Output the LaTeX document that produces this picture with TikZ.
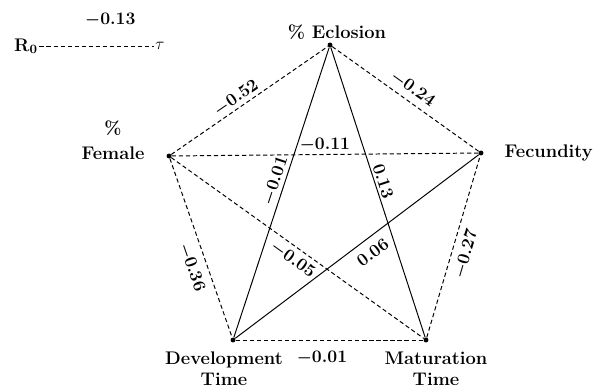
\documentclass[tikz,border=0pt]{standalone}
\usepackage{amsmath,amssymb}
\usepackage{tikz}
\usetikzlibrary{positioning}

\begin{document}
\begin{tikzpicture}[
  x=0.025cm, y=0.025cm,
  vtx/.style={circle, fill, inner sep=0pt, minimum size=3.5pt},
  lbl/.style={font=\fontsize{13}{15}\selectfont\bfseries, align=center, inner sep=1pt},
  coef/.style={font=\fontsize{12.5}{12}\selectfont\bfseries\boldmath, inner sep=1.5pt, sloped},
  dashln/.style={line width=0.7pt, dash pattern=on 3pt off 2pt},
  solidln/.style={line width=0.7pt}
]
  \useasboundingbox (0,0) rectangle (615,390);

  \node[vtx] (ecl) at (330,345) {};
  \node[vtx] (fem) at (169,234) {};
  \node[vtx] (fec) at (481,237) {};
  \node[vtx] (dev) at (233,50) {};
  \node[vtx] (mat) at (426,50) {};

  \node[lbl] (eclt) at (337,358) {\% Eclosion};
  \node[lbl] (femt) at (113,250) {\%\\[3pt]Female};
  \node[lbl, anchor=west] (fect) at (503,237) {Fecundity};
  \node[lbl] (devt) at (224,21) {Development\\Time};
  \node[lbl] (matt) at (436,21) {Maturation\\Time};

  \draw[dashln] (fem) -- node[coef, above, pos=0.45] {$-$0.52} (ecl);
  \draw[dashln] (ecl) -- node[coef, above=2pt] {$-$0.24} (fec);
  \draw[dashln] (fem) -- node[coef, above] {$-$0.11} (fec);
  \draw[solidln] (dev) -- node[coef, above, pos=0.53] {$-$0.01} (ecl);
  \draw[solidln] (ecl) -- node[coef, above, pos=0.47] {0.13} (mat);
  \draw[dashln] (fem) -- node[coef, below=4pt, pos=0.58] {$-$0.36} (dev);
  \draw[dashln] (fem) -- node[coef, below=2pt, pos=0.51] {$-$0.05} (mat);
  \draw[solidln] (dev) -- node[coef, below=4pt, pos=0.53] {0.06} (fec);
  \draw[dashln] (mat) -- node[coef, below=3pt, pos=0.48] {$-$0.27} (fec);
  \draw[dashln] (dev) -- node[coef, below=6pt, pos=0.46] {$-$0.01} (mat);

  % R0 vs tau
  \node[lbl] (r0) at (26,344) {R$_{\mathbf{0}}$};
  \node[lbl] (tau) at (160,344) {$\tau$};
  \draw[dashln] (r0) -- node[coef, above=12pt, pos=0.62] {$-$0.13} (tau);
\end{tikzpicture}
\end{document}
